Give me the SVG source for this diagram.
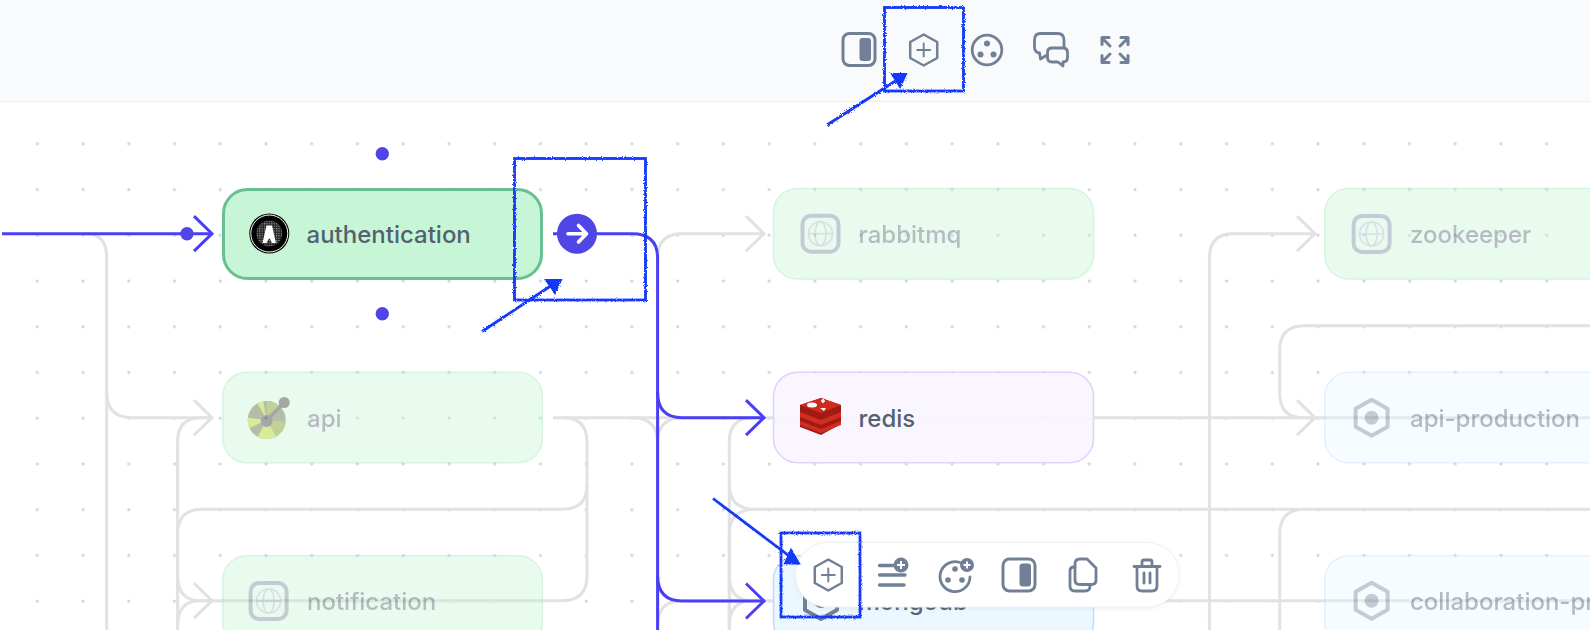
<svg xmlns="http://www.w3.org/2000/svg" width="1590" height="630" viewBox="0 0 1590 630">
<style>
.c{fill:none;stroke:#e2e2e2;stroke-width:3}
.b{fill:none;stroke:#4a3ff5;stroke-width:3}
.n{stroke-width:1.6}
.t{font-family:Inter,"Liberation Sans",sans-serif;font-size:24px;font-weight:500;fill:#4a5568}
.on{fill:#546170}
.i{fill:none;stroke:#718096;stroke-width:2.8;stroke-linejoin:round;stroke-linecap:round}
.thin{stroke-width:2.5}
.f{fill:#718096}
.g{fill:#c6f6d5;stroke:#9ae6b4}
.p{fill:#ebf8ff;stroke:#c3dafe}
.h{fill:none;stroke:#1238f8;stroke-width:2.8}
.ht{fill:#1238f8;stroke:#1238f8;stroke-width:2}
.fade{opacity:.4}
</style>
<defs>
<pattern id="dots" x="14.4" y="120.8" width="45.74" height="45.74" patternUnits="userSpaceOnUse"><circle cx="22.9" cy="22.9" r="1.6" fill="#cbd5e1"/></pattern>
<pattern id="hatch" width="2.4" height="2.4" patternUnits="userSpaceOnUse"><rect width="2.4" height="2.4" fill="#222"/><rect width="1.2" height="1.2" fill="#999"/></pattern>
<marker id="ag" markerUnits="userSpaceOnUse" markerWidth="24" markerHeight="42" refX="20" refY="20" orient="auto" viewBox="0 0 24 42"><path d="M2 2.500L20 20L2 37.500" fill="none" stroke="#e2e2e2" stroke-width="3"/></marker>
<marker id="ab" markerUnits="userSpaceOnUse" markerWidth="24" markerHeight="42" refX="20" refY="20" orient="auto" viewBox="0 0 24 42"><path d="M2 2.500L20 20L2 37.500" fill="none" stroke="#4a3ff5" stroke-width="3"/></marker>
<filter id="rough" x="-5%" y="-5%" width="110%" height="110%"><feTurbulence type="fractalNoise" baseFrequency="1.1" numOctaves="2" seed="3"/><feDisplacementMap in="SourceGraphic" scale="2.8"/></filter>
<filter id="sh" x="-5%" y="-20%" width="110%" height="140%"><feDropShadow dx="0" dy="1" stdDeviation="2" flood-color="#94a3b8" flood-opacity=".18"/></filter>
<symbol id="globe" overflow="visible"><rect x="2" y="2" width="36" height="36" rx="8.500" fill="none" stroke="#718096" stroke-width="4"/><g fill="none" stroke="#a0aec0" stroke-width="1.600"><circle cx="20" cy="20" r="12"/><ellipse cx="20" cy="20" rx="5.500" ry="12"/><path d="M8 20H32"/></g></symbol>
<symbol id="hexdot" overflow="visible"><path d="M20 2L36 11V29L20 38L4 29V11Z" fill="none" stroke="#718096" stroke-width="4" stroke-linejoin="round"/><circle cx="20" cy="20" r="7" fill="#718096"/></symbol>
<symbol id="hexplus" overflow="visible"><path d="M15 1L28.500 8.500V24.500L15 32L1.500 24.500V8.500Z" class="i thin"/><path d="M15 10V23M8.500 16.500H21.500" class="i" style="stroke-width:1.900"/></symbol>
<symbol id="panel" overflow="visible"><rect x="1.500" y="1.500" width="32" height="32" rx="6.500" class="i" style="stroke-width:3"/><rect x="18" y="6" width="11.500" height="23" rx="3" class="f"/></symbol>
</defs>

<rect width="1590" height="630" fill="#fff"/>
<rect y="102" width="1590" height="528" fill="url(#dots)"/>
<rect width="1590" height="101" fill="#f9fafb"/>
<path d="M0 101.500H1590" stroke="#eceef1" stroke-width="1"/>

<g id="toolbar-top">
<use href="#panel" x="841.500" y="32"/>
<use href="#hexplus" x="908.700" y="33.500"/>
<circle cx="987" cy="50" r="14.800" class="i"/><circle cx="987" cy="43.500" r="3" class="f"/><circle cx="980.500" cy="54.500" r="3" class="f"/><circle cx="993.500" cy="54.500" r="3" class="f"/>
<path d="M1064 47V40Q1064 33.500 1057.500 33.500H1040.500Q1034.500 33.500 1034.500 40V47Q1034.500 52.500 1039.500 53L1040.500 59L1047 55" class="i"/>
<path d="M1052 48H1063Q1067.500 48 1067.500 52.500V57.500Q1067.500 62 1063 62V66L1058 62H1052Q1047.500 62 1047.500 57.500V52.500Q1047.500 48 1052 48Z" class="i"/>
<path d="M1102 38L1110 46M1102 44.500V37.500H1109M1128 38L1120 46M1128 44.500V37.500H1121M1102 62L1110 54M1102 55.500V62.500H1109M1128 62L1120 54M1128 55.500V62.500H1121" class="i" style="stroke-width:3"/>
</g>

<g id="connectors">
<path class="c" d="M84 234H87Q106.700 234 106.700 258V630"/>
<path class="c" d="M106.700 392Q106.700 417.700 132 417.700H212" marker-end="url(#ag)"/>
<path class="c" d="M177.600 630V442Q177.600 417.700 201 417.700H212"/>
<path class="c" d="M177.600 630V534Q177.600 509.300 202 509.300H562Q587 509.300 587 485V442Q587 417.700 563 417.700"/>
<path class="c" d="M587 485V576Q587 600.700 562 600.700H200"/>
<path class="c" d="M177.600 575Q177.600 600.700 200 600.700H212" marker-end="url(#ag)"/>
<path class="c" d="M177.600 626Q177.600 600.700 200 600.700"/>
<path class="c" d="M553 417.700H1590"/>
<path class="c" d="M632 417.700Q657.600 417.700 657.600 443V630"/>
<path class="c" d="M657.600 443Q657.600 417.700 682 417.700"/>
<path class="c" d="M657.600 258Q657.600 233.700 682 233.700H764" marker-end="url(#ag)"/>
<path class="c" d="M657.600 626Q657.600 600.700 682 600.700H1590"/>
<path class="c" d="M729.300 630V442Q729.300 417.700 753 417.700"/>
<path class="c" d="M729.300 484Q729.300 509.300 755 509.300H1590"/>
<path class="c" d="M729.300 630V534Q729.300 509.300 755 509.300"/>
<path class="c" d="M729.300 575Q729.300 600.700 752 600.700"/>
<path class="c" d="M729.300 626Q729.300 600.700 752 600.700"/>
<path class="c" d="M1209.400 630V258Q1209.400 233.700 1233 233.700H1315" marker-end="url(#ag)"/>
<path class="c" d="M1590 325.700H1305Q1279.700 325.700 1279.700 350V393Q1279.700 417.700 1303 417.700H1315" marker-end="url(#ag)"/>
<path class="c" d="M1279.700 630V534Q1279.700 509.300 1305 509.300"/>
</g>

<g id="node-authentication"><rect x="223.500" y="189.500" width="318" height="89" rx="24" fill="#c6f6d5" stroke="#68c091" stroke-width="3"/>
<circle cx="269.300" cy="233.500" r="20" fill="#000"/><circle cx="269.300" cy="233.500" r="18.500" fill="none" stroke="#fff" stroke-width="1"/><circle cx="269.300" cy="233.500" r="13" fill="url(#hatch)"/><path d="M262.500 243L266.500 225.500H272L276 243H272L269.300 238L266.500 243Z" fill="#fff"/>
<text class="t on" x="306.500" y="243">authentication</text></g>

<g id="node-api" class="fade"><rect class="g n" x="222.800" y="372.300" width="319.500" height="90.500" rx="24"/>
<g fill="none" stroke-width="19" transform="rotate(-90 266.700 420)">
<circle cx="266.700" cy="420" r="9.500" stroke="#485c2a" pathLength="100"/>
<circle cx="266.700" cy="420" r="9.500" stroke="#669100" pathLength="100" stroke-dasharray="12 14 18 100" stroke-dashoffset="0"/>
<circle cx="266.700" cy="420" r="9.500" stroke="#a0cf00" pathLength="100" stroke-dasharray="16 100" stroke-dashoffset="-42"/>
<circle cx="266.700" cy="420" r="9.500" stroke="#a0cf00" pathLength="100" stroke-dasharray="9 100" stroke-dashoffset="-68"/>
<circle cx="266.700" cy="420" r="9.500" stroke="#a0cf00" pathLength="100" stroke-dasharray="5 100" stroke-dashoffset="-92"/>
</g>
<path d="M266.700 420L284 403" stroke="#222" stroke-width="3.500"/><circle cx="284.200" cy="402.500" r="5.500" fill="#222"/><circle cx="266.700" cy="421" r="6" fill="#222"/>
<text class="t" x="307" y="427">api</text></g>

<g id="node-notification" class="fade"><rect class="g n" x="222.800" y="555.700" width="319.500" height="90.500" rx="24"/><use href="#globe" x="248.600" y="581"/><text class="t" x="307" y="610">notification</text></g>

<g id="node-rabbitmq" class="fade"><rect class="g n" x="773.500" y="188.500" width="320" height="90.500" rx="24"/><use href="#globe" x="800.500" y="213.700"/><text class="t" x="858.500" y="243">rabbitmq</text></g>

<g id="node-redis"><rect x="773.500" y="372.300" width="320" height="90.500" rx="24" fill="#faf5ff" fill-opacity=".93" stroke="#e2d2fb" stroke-width="1.600"/>
<path d="M800 405L821 398L841 405V424L821 435L800 427Z" fill="#a11b12"/><path d="M800 405L821 398L841 405L821 413Z" fill="#cf2a20"/><path d="M800 412L821 420L841 412V417L821 425L800 417Z" fill="#d02e22"/><path d="M800 421L821 429L841 421V425L821 433L800 425Z" fill="#d02e22"/><ellipse cx="812" cy="405" rx="5" ry="2.500" fill="#fff"/><path d="M820 408L826 408L824 411Z" fill="#fff"/><path d="M821 401H825M823 399V403" stroke="#fff" stroke-width="1.600"/>
<text class="t on" x="858.500" y="427">redis</text></g>

<g id="node-mongodb"><rect class="p n" x="773.500" y="555.700" width="320" height="90.500" rx="24"/><use href="#hexdot" x="801" y="581"/><text class="t on" x="858.500" y="610">mongodb</text></g>

<g id="node-zookeeper" class="fade"><rect class="g n" x="1324.800" y="188.500" width="320" height="90.500" rx="24"/><use href="#globe" x="1351.600" y="214"/><text class="t" x="1410" y="243">zookeeper</text></g>

<g id="node-api-production" class="fade"><rect class="p n" x="1324.800" y="372.300" width="320" height="90.500" rx="24"/><use href="#hexdot" x="1351.600" y="397.700"/><text class="t" x="1410" y="427">api-production</text></g>

<g id="node-collaboration" class="fade"><rect class="p n" x="1324.800" y="555.700" width="320" height="90.500" rx="24"/><use href="#hexdot" x="1351.600" y="580.700"/><text class="t" x="1410" y="610">collaboration-pr</text></g>

<g id="active-connectors">
<path class="b" d="M2 233.700H212" marker-end="url(#ab)"/>
<path class="b" d="M553 233.700H632Q657.600 233.700 657.600 258V630"/>
<path class="b" d="M657.600 392Q657.600 417.700 682 417.700H764" marker-end="url(#ab)"/>
<path class="b" d="M657.600 575Q657.600 601 682 601H764" marker-end="url(#ab)"/>
</g>

<g id="handles">
<circle cx="187" cy="233.700" r="6.700" fill="#4f46e5"/>
<circle cx="382.300" cy="153.700" r="6.700" fill="#4f46e5"/>
<circle cx="382.300" cy="313.700" r="6.700" fill="#4f46e5"/>
<circle cx="577" cy="233.700" r="20" fill="#4f46e5"/>
<path d="M568 233.700H586M578.500 225.500L586.500 233.700L578.500 242" fill="none" stroke="#fff" stroke-width="3.600" stroke-linecap="round" stroke-linejoin="round"/>
</g>

<g id="toolbar-node">
<rect x="795.500" y="542.500" width="383.500" height="64.500" rx="32" fill="#fff" stroke="#edf2f7" filter="url(#sh)"/>
<use href="#hexplus" x="813.300" y="558.500"/>
<path d="M879.500 565.500H894M879.500 575H905M879.500 585H904" class="i" style="stroke-width:3.400"/>
<circle cx="901" cy="565" r="7.500" class="f"/><path d="M901 561V569M897 565H905" stroke="#fff" stroke-width="2"/>
<path d="M960 562.500A15 15 0 1 0 970 577" class="i"/><circle cx="955" cy="569" r="2.800" class="f"/><circle cx="948" cy="580" r="2.800" class="f"/><circle cx="962" cy="580" r="2.800" class="f"/>
<circle cx="967" cy="565" r="7" class="f"/><path d="M967 561.500V568.500M963.500 565H970.500" stroke="#fff" stroke-width="2"/>
<use href="#panel" x="1001.500" y="557.500"/>
<path d="M1080 559H1087L1096 568V580Q1096 584.500 1091.500 584.500H1080Q1075 584.500 1075 580V564Q1075 559 1080 559Z" class="i"/>
<path d="M1075 567H1074Q1070 567 1070 571V586Q1070 591 1075 591H1085Q1090 591 1090 586V584.500" class="i"/>
<path d="M1134 566.500H1160M1137 566.500V586Q1137 591 1142 591H1152Q1157 591 1157 586V566.500M1142 566V562Q1142 560 1144 560H1150Q1152 560 1152 562V566M1144 573V583M1150 573V583" class="i"/>
</g>

<g id="annotations">
<g filter="url(#rough)">
<rect class="h" x="884.500" y="7.500" width="79" height="83.500"/>
<path class="h" d="M827 125L897 80"/>
<path class="ht" d="M892 74H906L900 87Z"/>
<rect class="h" x="514.500" y="158.500" width="131" height="141.500"/>
<path class="h" d="M482 331.500L552 285"/>
<path class="ht" d="M546 280H561L555 293Z"/>
<rect class="h" x="781" y="533" width="79" height="84"/>
<path class="h" d="M713 498.500L792 558"/>
<path class="ht" d="M791 550L785 563.500H799Z"/>
</g>
</g>
</svg>
